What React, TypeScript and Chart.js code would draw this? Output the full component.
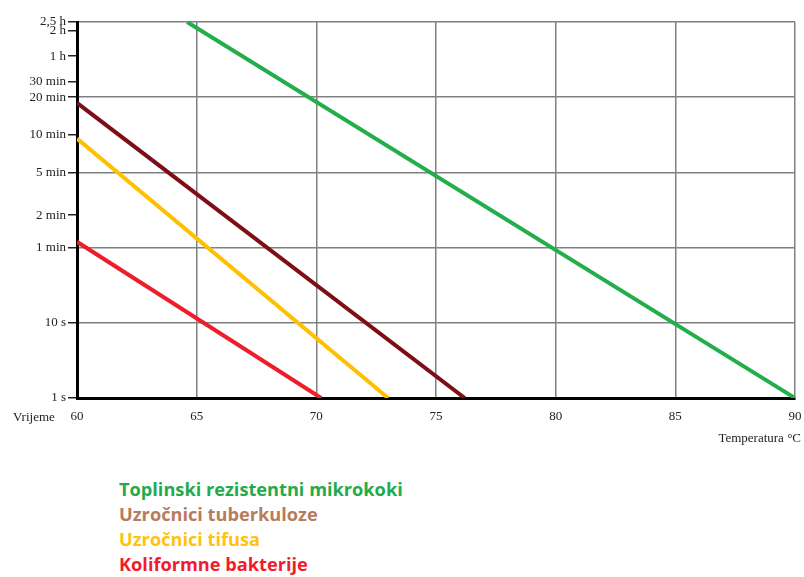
import React, { useEffect, useRef } from "react";
import { Chart, registerables } from "chart.js";

Chart.register(...registerables);

// ---- Data ----
const legendLabels = [
  "Toplinski rezistentni mikrokoki",
  "Uzročnici tuberkuloze",
  "Uzročnici tifusa",
  "Koliformne bakterije",
];
const lineColors = ["#22AE4A", "#7E0E16", "#FFC000", "#EE1D2C"];
const legendColors = ["#25AA4B", "#B57C5E", "#FFC20E", "#F21B2B"];

// temperatures (°C) and times (seconds) of each line's end points
const microkokiTemps = [64.6, 90];
const microkokiTimes = [9000, 1];
const tuberkulozaTemps = [60, 76.2];
const tuberkulozaTimes = [1080, 1];
const tifusTemps = [60, 73.0];
const tifusTimes = [560, 1];
const koliformneTemps = [60, 70.2];
const koliformneTimes = [68, 1];

// time axis (seconds) and its labels
const tickSeconds = [1, 10, 60, 120, 300, 600, 1200, 1800, 3600, 7200, 9000];
const tickLabels = ["1 s", "10 s", "1 min", "2 min", "5 min", "10 min", "20 min", "30 min", "1 h", "2 h", "2,5 h"];
// grid rows (evenly spaced on the chart)
const gridSeconds = [1, 10, 60, 300, 1200, 9000];

const xTicks = [60, 65, 70, 75, 80, 85, 90];

// piecewise-logarithmic mapping of seconds onto evenly spaced grid rows
function toRow(s: number): number {
  for (let i = 0; i < gridSeconds.length - 1; i++) {
    const a = gridSeconds[i];
    const b = gridSeconds[i + 1];
    if (s <= b || i === gridSeconds.length - 2) {
      return i + Math.log(s / a) / Math.log(b / a);
    }
  }
  return 0;
}

const serif = "'Liberation Serif', 'Times New Roman', serif";

export default function App() {
  const ref = useRef<HTMLCanvasElement | null>(null);

  useEffect(() => {
    document.body.style.margin = "0";
    if (!ref.current) return;
    const series = [
      [microkokiTemps, microkokiTimes],
      [tuberkulozaTemps, tuberkulozaTimes],
      [tifusTemps, tifusTimes],
      [koliformneTemps, koliformneTimes],
    ];
    const textPlugin = {
      id: "axisTexts",
      afterDraw(chart: any) {
        const { ctx, chartArea } = chart;
        ctx.save();
        ctx.font = `13px ${serif}`;
        ctx.fillStyle = "#222";
        ctx.textBaseline = "middle";
        ctx.textAlign = "left";
        ctx.fillText("Vrijeme", chartArea.left - 64, chartArea.bottom + 20);
        ctx.textAlign = "right";
        ctx.fillText("Temperatura °C", chartArea.right + 6, chartArea.bottom + 41);
        ctx.restore();
      },
    };
    const chart = new Chart(ref.current, {
      type: "line",
      data: {
        datasets: series.map((s, i) => ({
          label: legendLabels[i],
          data: s[0].map((t, j) => ({ x: t, y: toRow(s[1][j]) })),
          borderColor: lineColors[i],
          backgroundColor: lineColors[i],
          borderWidth: 4,
          pointRadius: 0,
          fill: false,
          tension: 0,
        })),
      },
      options: {
        animation: false,
        responsive: false,
        maintainAspectRatio: false,
        layout: { padding: { left: 0, right: 9, top: 22, bottom: 0 } },
        plugins: { legend: { display: false }, tooltip: { enabled: false } },
        scales: {
          x: {
            type: "linear",
            min: 60,
            max: 90,
            afterBuildTicks: (scale: any) => {
              scale.ticks = xTicks.map((v) => ({ value: v }));
            },
            afterFit: (scale: any) => {
              scale.height = 62;
              scale.paddingLeft = 0;
              scale.paddingRight = 0;
            },
            grid: {
              color: (c: any) => (c.tick && c.tick.value === 60 ? "rgba(0,0,0,0)" : "#808080"),
              lineWidth: 1.5,
              drawTicks: false,
            },
            border: { display: true, color: "#000", width: 3 },
            ticks: {
              padding: 11,
              color: "#222",
              font: { family: serif, size: 13 },
              autoSkip: false,
              maxRotation: 0,
            },
          },
          y: {
            type: "linear",
            min: 0,
            max: gridSeconds.length - 1,
            afterBuildTicks: (scale: any) => {
              scale.ticks = tickSeconds.map((s) => ({ value: toRow(s) }));
            },
            afterFit: (scale: any) => {
              scale.width = 77;
              scale.paddingTop = 0;
              scale.paddingBottom = 0;
            },
            grid: {
              color: (c: any) => {
                const s = tickSeconds[c.index];
                if (s === 1 || gridSeconds.indexOf(s) < 0) return "rgba(0,0,0,0)";
                return "#808080";
              },
              lineWidth: 1.5,
              drawTicks: true,
              tickLength: 9,
              tickColor: "#222",
              tickWidth: 1.5,
            },
            border: { display: true, color: "#000", width: 3 },
            ticks: {
              padding: 2,
              color: "#222",
              font: { family: serif, size: 13 },
              autoSkip: false,
              callback: (_v: any, i: number) => tickLabels[i],
            },
          },
        },
      },
      plugins: [textPlugin],
    });
    return () => chart.destroy();
  }, []);

  return (
    <div style={{ position: "relative", width: 804, height: 577, background: "#fff" }}>
      <canvas ref={ref} width={804} height={460} style={{ display: "block", width: 804, height: 460 }} />
      <div style={{ position: "absolute", left: 119, top: 477 }}>
        {legendLabels.map((l, i) => (
          <div
            key={l}
            style={{
              color: legendColors[i],
              fontFamily: "'Open Sans', 'Noto Sans', sans-serif",
              fontWeight: 700,
              fontSize: 18.2,
              lineHeight: "25px",
              whiteSpace: "nowrap",
            }}
          >
            {l}
          </div>
        ))}
      </div>
    </div>
  );
}
